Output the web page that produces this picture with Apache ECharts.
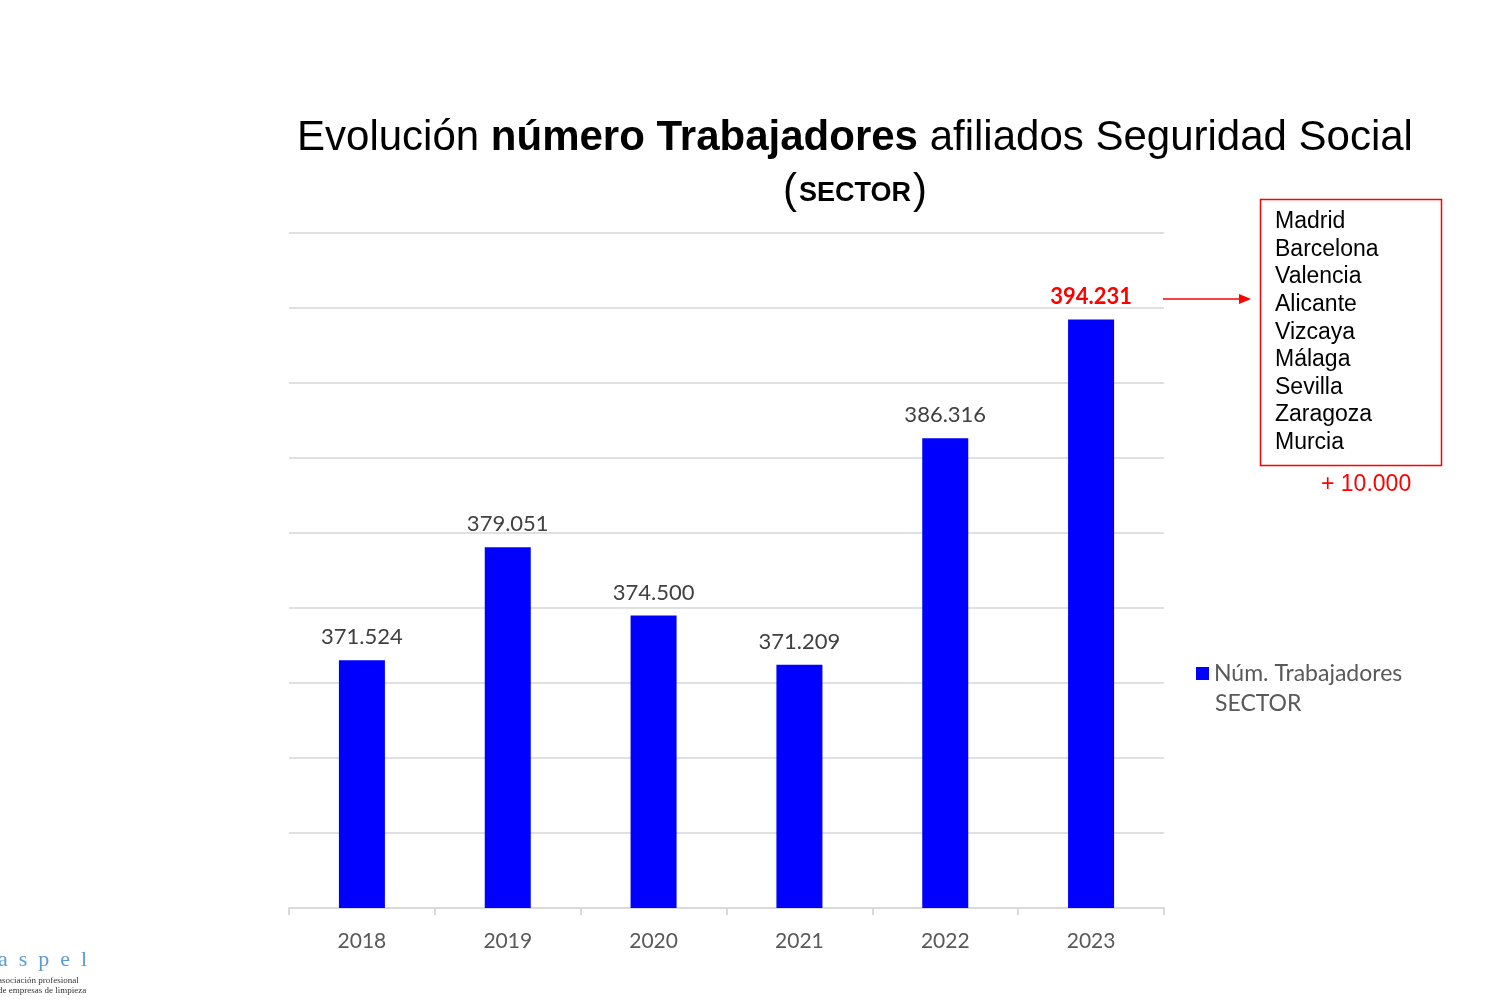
<!DOCTYPE html>
<html>
<head>
<meta charset="utf-8">
<script src="https://cdn.jsdelivr.net/npm/echarts@6/dist/echarts.min.js"></script>
<style>
  html, body { margin: 0; padding: 0; background: #fff; }
  #main { width: 1500px; height: 1000px; }
</style>
</head>
<body>
<div id="main"></div>
<script>
// data
var years = ['2018', '2019', '2020', '2021', '2022', '2023'];
var workers = [371524, 379051, 374500, 371209, 386316, 394231];
var provinces = ['Madrid', 'Barcelona', 'Valencia', 'Alicante', 'Vizcaya', 'Málaga', 'Sevilla', 'Zaragoza', 'Murcia'];
var seriesName = 'Núm. Trabajadores SECTOR';

function fmt(v) {
    // 394231 -> 394.231
    return String(v).replace(/\B(?=(\d{3})+(?!\d))/g, '.');
}

var chart = echarts.init(document.getElementById('main'));

var barData = workers.map(function(v, i) {
    var item = { value: v };
    if (i == workers.length - 1) {
        item.label = { color: '#ff0000', fontWeight: 'bold' };
    }
    return item;
});

var labelFont = 'Lato, "Open Sans", sans-serif';
var arial = '"Liberation Sans", Arial, sans-serif';

var graphics = [
    // red box with the provinces
    {
        type: 'rect',
        shape: { x: 1260.5, y: 199.5, width: 181, height: 266 },
        style: { fill: 'none', stroke: '#ff0000', lineWidth: 1.5 }
    },
    {
        type: 'text',
        left: 1275,
        top: 208,
        style: {
            text: provinces.join('\n'),
            font: '23px ' + arial,
            lineHeight: 27.6,
            fill: '#000'
        }
    },
    {
        type: 'text',
        left: 1321,
        top: 473,
        style: {
            text: '+ 10.000',
            font: '23px ' + arial,
            fill: '#ff0000'
        }
    },
    // arrow from last label to the box
    {
        type: 'line',
        shape: { x1: 1163, y1: 299, x2: 1240, y2: 299 },
        style: { stroke: '#ff0000', lineWidth: 1.5 }
    },
    {
        type: 'polygon',
        shape: { points: [[1251, 299], [1239, 294], [1239, 304]] },
        style: { fill: '#ff0000' }
    },
    // second line of the legend name
    {
        type: 'text',
        left: 1215,
        top: 692,
        style: {
            text: 'SECTOR',
            font: '23px ' + labelFont,
            fill: '#595959'
        }
    },
    // logo, bottom left
    {
        type: 'text',
        left: -2,
        top: 949,
        style: {
            text: 'a  s  p  e  l',
            font: '22px "Liberation Serif", "DejaVu Serif", serif',
            fill: '#5b9bd5'
        }
    },
    {
        type: 'text',
        left: -2,
        top: 976,
        style: {
            text: 'asociación profesional\nde empresas de limpieza',
            font: '9px "Liberation Serif", "DejaVu Serif", serif',
            lineHeight: 10,
            fill: '#333'
        }
    }
];

var option = {
    backgroundColor: '#fff',
    animation: false,
    title: {
        left: 850,
        top: 107,
        textAlign: 'center',
        text: 'Evolución {b|número Trabajadores} afiliados Seguridad Social\n{p|(}{s|SECTOR}{p|)}',
        textStyle: {
            fontFamily: arial,
            fontSize: 42,
            fontWeight: 'normal',
            color: '#000',
            lineHeight: 53,
            rich: {
                b: { fontFamily: arial, fontSize: 42, fontWeight: 'bold', color: '#000', lineHeight: 53 },
                p: { fontFamily: arial, fontSize: 42, color: '#000', lineHeight: 53 },
                s: { fontFamily: arial, fontSize: 27, fontWeight: 'bold', color: '#000', lineHeight: 53, padding: [4, 2, 0, 2] }
            }
        }
    },
    legend: {
        orient: 'vertical',
        left: 1191,
        top: 657,
        itemWidth: 13,
        itemHeight: 13,
        itemGap: 6,
        icon: 'rect',
        formatter: function(name) {
            return name.replace(' SECTOR', '');
        },
        textStyle: {
            fontFamily: labelFont,
            fontSize: 23,
            color: '#595959'
        },
        data: [seriesName]
    },
    grid: {
        left: 289,
        right: 336,
        top: 233,
        bottom: 92,
        containLabel: false
    },
    xAxis: {
        type: 'category',
        data: years,
        axisLine: { lineStyle: { color: '#d9d9d9', width: 2 } },
        axisTick: { show: true, length: 7, lineStyle: { color: '#d9d9d9', width: 2 } },
        axisLabel: {
            margin: 23,
            fontFamily: labelFont,
            fontSize: 21,
            color: '#595959'
        }
    },
    yAxis: {
        type: 'value',
        min: 355000,
        max: 400000,
        interval: 5000,
        axisLabel: { show: false },
        axisLine: { show: false },
        axisTick: { show: false },
        splitLine: { lineStyle: { color: '#e0e0e0', width: 2 } }
    },
    series: [{
        name: seriesName,
        type: 'bar',
        data: barData,
        barWidth: 46,
        itemStyle: { color: '#0000ff' },
        label: {
            show: true,
            position: 'top',
            distance: 12,
            formatter: function(p) { return fmt(p.value); },
            fontFamily: labelFont,
            fontSize: 22,
            color: '#404040'
        }
    }],
    graphic: graphics
};

chart.setOption(option);
</script>
</body>
</html>
